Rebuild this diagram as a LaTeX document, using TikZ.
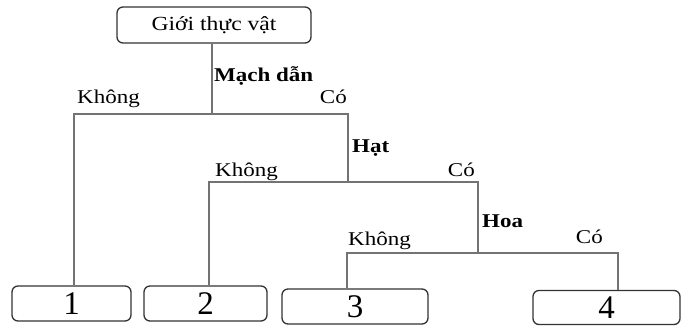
\documentclass[tikz,border=0pt]{standalone}
\usepackage{fontspec}
\setmainfont{Liberation Serif}
\newfontfamily\lblfont[FakeStretch=1.18]{Liberation Serif}
\begin{document}
\begin{tikzpicture}[x=1pt,y=-1pt,
  leafbox/.style={draw=black!80,line width=1.3pt,rounded corners=6pt,
    minimum height=35pt,inner sep=0pt,font=\fontsize{33}{33}\selectfont},
  rootbox/.style={draw=black!80,line width=1.3pt,rounded corners=6pt,
    minimum width=194pt,minimum height=36pt,inner sep=0pt,
    font=\lblfont\fontsize{20}{21}\selectfont},
  branch/.style={draw=black!55,line width=1.1pt},
  choice/.style={inner sep=0pt,font=\lblfont\fontsize{19.5}{21}\selectfont},
  test/.style={inner sep=0pt,font=\lblfont\bfseries\fontsize{19.5}{21}\selectfont}]
\useasboundingbox (0,0) rectangle (687,325);

% root and leaf boxes
\node[rootbox] (root) at (214,25) {Giới thực vật};
\node[leafbox,minimum width=119pt] (b1) at (71.5,303.5) {1};
\node[leafbox,minimum width=123pt] (b2) at (205.5,303.5) {2};
\node[leafbox,minimum width=146pt] (b3) at (355,306.5) {3};
\node[leafbox,minimum width=147pt,minimum height=34pt] (b4) at (606.5,307.5) {4};

% junction points of the key
\coordinate (k1) at (212,114);
\coordinate (k1L) at (74,114);
\coordinate (k1R) at (348,114);
\coordinate (k2L) at (209,182);
\coordinate (k2R) at (478,182);
\coordinate (k3L) at (347,253);
\coordinate (k3R) at (618,253);

% branches
\draw[branch] (root.south -| k1) -- (k1);
\draw[branch] (b1.north -| k1L) -- (k1L) -- (k1R) -- (k1R |- k2L);
\draw[branch] (b2.north -| k2L) -- (k2L) -- (k2R) -- (k2R |- k3L);
\draw[branch] (b3.north -| k3L) -- (k3L) -- (k3R) -- (b4.north -| k3R);

% criteria
\node[test,anchor=base west] (t1) at (214,81) {Mạch dẫn};
\node[test,anchor=base west] (t2) at (352,152) {Hạt};
\node[test,anchor=base west] (t3) at (482,227) {Hoa};

% answers
\node[choice,anchor=base west] (n1) at (77,103) {Không};
\node[choice,anchor=base east] (y1) at (347,103) {Có};
\node[choice,anchor=base west] (n2) at (215,176) {Không};
\node[choice,anchor=base east] (y2) at (475,176) {Có};
\node[choice,anchor=base west] (n3) at (348,245) {Không};
\node[choice,anchor=base east] (y3) at (603,243) {Có};
\end{tikzpicture}
\end{document}
